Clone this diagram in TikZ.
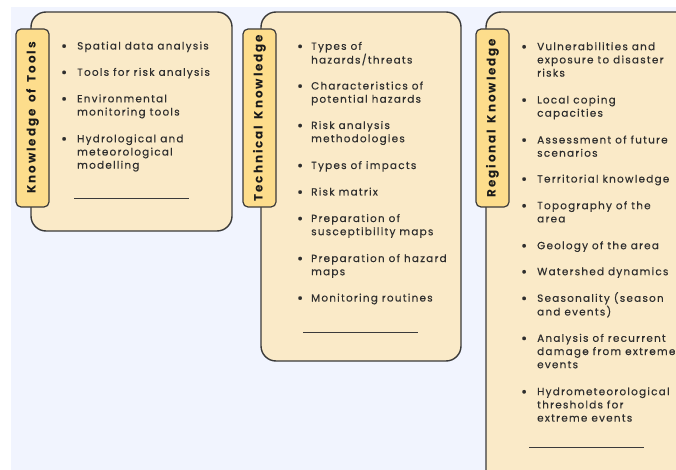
\documentclass[tikz,border=0pt]{standalone}
\usepackage{fontspec}
\setmainfont{Poppins}
\newfontfamily\labfont{Poppins}[LetterSpace=16]
\newfontfamily\itemfont{Poppins}[LetterSpace=12,FakeBold=0.35]
\definecolor{bgblue}{HTML}{F1F4FE}
\definecolor{cardfill}{HTML}{FAEAC8}
\definecolor{tabfill}{HTML}{FDDD8C}
\definecolor{edge}{HTML}{3A3A3A}
\definecolor{txt}{HTML}{2E2E2E}
\newcommand\bul{\raisebox{-1.6pt}{\fontsize{15}{15}\selectfont •}}
\newcommand\bitem[2][10]{\llap{\bul\hspace{#1pt}}\begin{tabular}[t]{@{}l@{}}#2\end{tabular}}
\tikzset{
  card/.style={draw=edge, line width=1.4pt, fill=cardfill, rounded corners=15pt},
  tabbox/.style={draw=edge, line width=1.2pt, fill=tabfill, rounded corners=5pt,
    rotate=90, minimum width=178pt, minimum height=33pt, inner sep=0pt,
    font=\labfont\bfseries\fontsize{12}{12}\selectfont, text=black!90},
  item/.style={anchor=base west, inner sep=0pt, text=txt,
    font=\itemfont\fontsize{10.4}{13.2}\selectfont},
  sep/.style={draw=edge, line width=1pt}
}
\begin{document}
\begin{tikzpicture}[x=1pt,y=-1pt]
\useasboundingbox (0,0) rectangle (676,470);
\clip (0,0) rectangle (676,470);
\fill[white] (0,0) rectangle (676,470);
\fill[bgblue] (11,7) rectangle (676,470);
% cards
\draw[card] (31,12) rectangle (232,231);
\draw[card] (261,12) rectangle (461,361);
\draw[card] (486,12) rectangle (700,485);
% tabs
\node[tabbox] (k1) at (32.5,118) {Knowledge\hspace{2pt} of\hspace{2pt} Tools};
\node[tabbox] (k2) at (259.5,118) {Technical\hspace{2pt} Knowledge};
\node[tabbox] (k3) at (492.5,118) {Regional\hspace{2pt} Knowledge};
% box 1 items
\node[item] (a1) at (77,49.5) {\bitem{Spatial data analysis}};
\node[item] (a2) at (77,75.8) {\bitem{Tools for risk analysis}};
\node[item] (a3) at (77,102.3) {\bitem{Environmental\\monitoring tools}};
\node[item] (a4) at (77,142.3) {\bitem{Hydrological and\\meteorological\\modelling}};
\draw[sep] (74,199) -- (189,199);
% box 2 items
\node[item] (b1) at (311,49.8) {\bitem[8]{Types of\\hazards/threats}};
\node[item] (b2) at (311,89.5) {\bitem[8]{Characteristics of\\potential hazards}};
\node[item] (b3) at (311,129) {\bitem[8]{Risk analysis\\methodologies}};
\node[item] (b4) at (311,169) {\bitem[8]{Types of impacts}};
\node[item] (b5) at (311,195.5) {\bitem[8]{Risk matrix}};
\node[item] (b6) at (311,222) {\bitem[8]{Preparation of\\susceptibility maps}};
\node[item] (b7) at (311,262) {\bitem[8]{Preparation of hazard\\maps}};
\node[item] (b8) at (311,301.5) {\bitem[8]{Monitoring routines}};
\draw[sep] (303,332) -- (418,332);
% box 3 items
\node[item] (c1) at (537,50.2) {\bitem{Vulnerabilities and\\exposure to disaster\\risks}};
\node[item] (c2) at (537,103.5) {\bitem{Local coping\\capacities}};
\node[item] (c3) at (537,143.5) {\bitem{Assessment of future\\scenarios}};
\node[item] (c4) at (537,182.5) {\bitem{Territorial knowledge}};
\node[item] (c5) at (537,209.2) {\bitem{Topography of the\\area}};
\node[item] (c6) at (537,249.2) {\bitem{Geology of the area}};
\node[item] (c7) at (537,275.2) {\bitem{Watershed dynamics}};
\node[item] (c8) at (537,301.8) {\bitem{Seasonality (season\\and events)}};
\node[item] (c9) at (537,341.8) {\bitem{Analysis of recurrent\\damage from extreme\\events}};
\node[item] (c10) at (537,395.2) {\bitem{Hydrometeorological\\thresholds for\\extreme events}};
\draw[sep] (529,447) -- (644,447);
\end{tikzpicture}
\end{document}
